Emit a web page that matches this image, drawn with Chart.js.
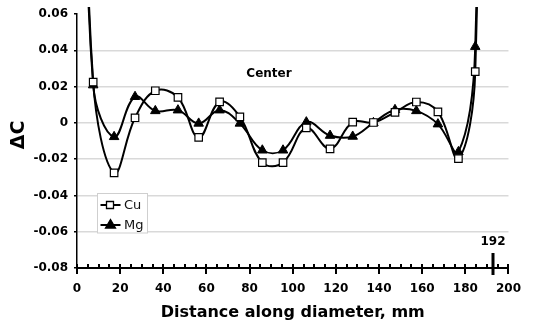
<!DOCTYPE html>
<html>
<head>
<meta charset="utf-8">
<script src="https://cdn.jsdelivr.net/npm/chart.js@4/dist/chart.umd.min.js"></script>
<style>
  html, body { margin: 0; padding: 0; background: #fff; }
  #wrap { width: 535px; height: 329px; position: relative; }
</style>
</head>
<body>
<div id="wrap"><canvas id="c" width="535" height="329"></canvas></div>
<script>
// Distance along diameter (mm); first and last entries are off-chart edge points (hidden markers)
const distances = [4, 7.5, 17.2, 26.9, 36.3, 46.8, 56.4, 66.1, 75.5, 85.9, 95.5, 106.3, 117.3, 127.8, 137.4, 147.4, 157.3, 167.3, 176.8, 184.6, 188];
const cuValues  = [0.2, 0.0225, -0.0276, 0.0028, 0.0177, 0.014, -0.008, 0.0116, 0.0033, -0.0219, -0.0219, -0.0028, -0.0143, 0.0004, 0.0002, 0.0058, 0.0115, 0.0061, -0.0197, 0.0282, 0.45];
const mgValues  = [0.2, 0.0208, -0.0077, 0.0144, 0.0066, 0.007, -0.0003, 0.007, -0.0003, -0.0151, -0.0151, 0.0004, -0.007, -0.0075, 0.0, 0.0072, 0.0066, -0.0007, -0.016, 0.042, 0.45];
const seriesNames = ['Cu', 'Mg'];
const xTickValues = [0, 20, 40, 60, 80, 100, 120, 140, 160, 180, 200];
const xMinorStep = 5;
const yTickValues = [-0.08, -0.06, -0.04, -0.02, 0, 0.02, 0.04, 0.06];
const edgeMarkValue = 193;
const edgeMarkLabel = '192';
const centerLabel = { text: 'Center', x: 89, y: 0.027 };

const hiddenRadius = (n, r) => distances.map((_, i) => (i === 0 || i === n - 1) ? 0 : r);
const toPoints = vals => distances.map((x, i) => ({ x: x, y: vals[i] }));

const FONT = "'DejaVu Sans', sans-serif";

function drawExtras(chart) {
  const ctx = chart.ctx;
  const xs = chart.scales.x, ys = chart.scales.y;
  const axisY = Math.round(ys.getPixelForValue(ys.min));
  ctx.save();
  ctx.beginPath();
  // x ticks: minor (up only), major (across the axis)
  ctx.fillStyle = '#000';
  for (let v = xs.min; v <= xs.max; v += xMinorStep) {
    const px = Math.round(xs.getPixelForValue(v));
    const major = xTickValues.includes(v);
    if (major) ctx.fillRect(px - 1, axisY - 4, 2, 10);
    else ctx.fillRect(px - 1, axisY - 4, 2, 4);
  }
  // edge marker
  const ex = Math.round(xs.getPixelForValue(edgeMarkValue));
  ctx.fillRect(ex - 1.5, axisY - 15, 3, 22);
  ctx.font = "bold 12px " + FONT;
  ctx.textAlign = 'center';
  ctx.textBaseline = 'middle';
  ctx.fillText(edgeMarkLabel, ex, ys.getPixelForValue(-0.0655));
  // center label
  ctx.fillText(centerLabel.text, xs.getPixelForValue(centerLabel.x), ys.getPixelForValue(centerLabel.y));
  // y title
  ctx.save();
  ctx.translate(19, 135);
  ctx.rotate(-Math.PI / 2);
  ctx.font = "bold 19px " + FONT;
  ctx.fillText('\u0394C', 0, 0);
  ctx.restore();
  // legend
  const lx = 97.5, ly = 193.5, lw = 50, lh = 39.5;
  ctx.fillStyle = '#fff';
  ctx.fillRect(lx, ly, lw, lh);
  ctx.strokeStyle = '#cfcfcf';
  ctx.lineWidth = 1;
  ctx.strokeRect(lx, ly, lw, lh);
  const rows = [205, 225];
  chart.data.datasets.forEach((ds, i) => {
    const yy = rows[i];
    ctx.strokeStyle = '#000';
    ctx.lineWidth = 2;
    ctx.beginPath();
    ctx.moveTo(100.5, yy);
    ctx.lineTo(120.5, yy);
    ctx.stroke();
    ctx.fillStyle = ds.pointBackgroundColor;
    ctx.lineWidth = 1.3;
    ctx.beginPath();
    if (i === 0) {
      ctx.rect(106.5, yy - 3.5, 7, 7);
    } else {
      ctx.moveTo(110.5, yy - 5.5); ctx.lineTo(115.5, yy + 3); ctx.lineTo(105.5, yy + 3); ctx.closePath();
    }
    ctx.fill(); ctx.stroke();
    ctx.fillStyle = '#111';
    ctx.font = "13px " + FONT;
    ctx.textAlign = 'left';
    ctx.fillText(ds.label, 124, yy + 0.5);
  });
  ctx.restore();
}

const extras = {
  id: 'extras',
  afterRender(chart) { drawExtras(chart); }
};

new Chart(document.getElementById('c'), {
  type: 'line',
  data: {
    datasets: [
      {
        label: seriesNames[0],
        data: toPoints(cuValues),
        borderColor: '#000',
        borderWidth: 2,
        tension: 0.4,
        pointStyle: 'rect',
        pointRadius: hiddenRadius(distances.length, 5.3),
        pointBackgroundColor: '#fff',
        pointBorderColor: '#000',
        pointBorderWidth: 1.2,
        clip: { left: 0, top: 7, right: 0, bottom: 0 }
      },
      {
        label: seriesNames[1],
        data: toPoints(mgValues),
        borderColor: '#000',
        borderWidth: 2,
        tension: 0.4,
        pointStyle: 'triangle',
        pointRadius: hiddenRadius(distances.length, 5.5),
        pointBackgroundColor: '#000',
        pointBorderColor: '#000',
        pointBorderWidth: 1,
        clip: { left: 0, top: 7, right: 0, bottom: 0 }
      }
    ]
  },
  options: {
    responsive: false,
    animation: false,
    devicePixelRatio: 1,
    layout: { padding: { left: 0, right: 19, top: 14, bottom: 0 } },
    plugins: { legend: { display: false }, tooltip: { enabled: false } },
    scales: {
      x: {
        type: 'linear',
        min: 0, max: 200,
        afterBuildTicks: s => { s.ticks = xTickValues.map(v => ({ value: v })); },
        afterFit: s => { s.height = 61; },
        grid: { display: false, drawTicks: false },
        border: { display: true, color: '#000', width: 2 },
        ticks: { color: '#000', font: { family: FONT, size: 12, weight: 'bold' }, padding: 14, maxRotation: 0 },
        title: { display: true, text: 'Distance along diameter, mm', color: '#000',
                 font: { family: FONT, size: 16, weight: 'bold' }, padding: { top: 0, bottom: 7 } }
      },
      y: {
        min: -0.08, max: 0.06,
        afterBuildTicks: s => { s.ticks = yTickValues.map(v => ({ value: v })); },
        afterFit: s => { s.width = 77; },
        grid: {
          color: c => (c.tick && (Math.abs(c.tick.value - 0.06) < 1e-9 || Math.abs(c.tick.value + 0.08) < 1e-9)) ? 'rgba(0,0,0,0)' : '#d9d9d9',
          lineWidth: 1.5,
          tickColor: '#000',
          tickLength: 3,
          drawTicks: true
        },
        border: { display: true, color: '#000', width: 1.5 },
        ticks: {
          color: '#000', padding: 6,
          font: { family: FONT, size: 12, weight: 'bold' },
          callback: v => Math.abs(v) < 1e-9 ? '0' : v.toFixed(2)
        }
      }
    }
  },
  plugins: [extras]
});
</script>
</body>
</html>
